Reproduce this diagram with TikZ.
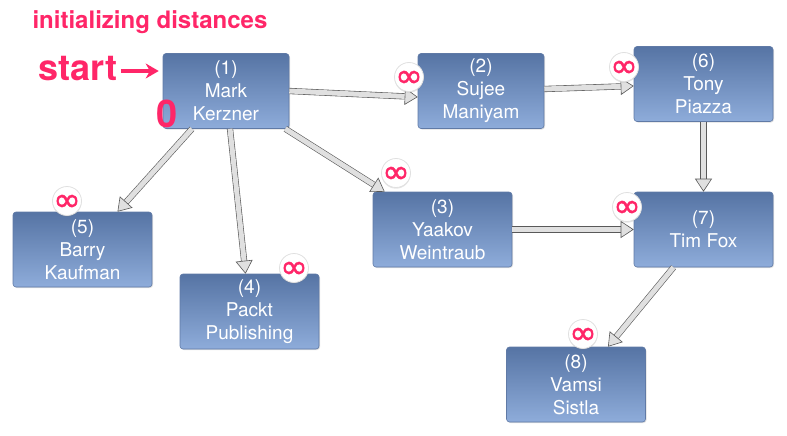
\documentclass[tikz,border=0pt]{standalone}
\usepackage{fontspec}
\setmainfont{TeX Gyre Heros}
\newfontfamily\inffont[FakeBold=1.2]{DejaVu Sans}
\usepackage{tikz}
\usetikzlibrary{arrows.meta,positioning,calc,shadows}
\definecolor{hot}{RGB}{255,38,104}
\definecolor{boxtop}{RGB}{86,116,164}
\definecolor{boxbot}{RGB}{142,172,218}
\definecolor{boxline}{RGB}{96,122,166}
\newcommand{\distinf}{\makebox[0pt]{\raisebox{-0.3em}[0pt][0pt]{∞}}}
\tikzstyle{person}=[draw=boxline,line width=0.6pt,rounded corners=3pt,top color=boxtop,bottom color=boxbot,
  minimum height=75pt,align=center,text=white,inner sep=2pt,
  font=\fontsize{19}{23}\selectfont,drop shadow={opacity=0.25,shadow xshift=1pt,shadow yshift=-1pt}]
\tikzstyle{dist}=[circle,draw=black!12,line width=0.8pt,fill=white,inner sep=0pt,minimum size=29pt,text=hot,
  font=\inffont\fontsize{33}{33}\selectfont,drop shadow={opacity=0.2,shadow xshift=0pt,shadow yshift=-1.2pt}]
\tikzstyle{link}=[draw=black!65,line width=0.6pt,double=black!12,double distance=5pt,
  -{Triangle[open,length=13pt,width=17pt,fill=black!12]}]
\tikzstyle{hotlabel}=[text=hot,font=\bfseries]

\begin{document}
\begin{tikzpicture}[x=1pt,y=-1pt]
\useasboundingbox (0,0) rectangle (787,436);
% people
\node [person,minimum width=126pt] (n1) at (226,91) {(1)\\Mark\\Kerzner};
\node [person,minimum width=126pt] (n2) at (481,91) {(2)\\Sujee\\Maniyam};
\node [person,minimum width=139pt] (n6) at (703.5,84) {(6)\\Tony\\Piazza};
\node [person,minimum width=139pt] (n3) at (442.5,229.5) {(3)\\Yaakov\\Weintraub};
\node [person,minimum width=139pt] (n7) at (703.5,229.5) {(7)\\Tim Fox};
\node [person,minimum width=139pt] (n5) at (82.5,249.5) {(5)\\Barry\\Kaufman};
\node [person,minimum width=139pt] (n4) at (249.5,311.5) {(4)\\Packt\\Publishing};
\node [person,minimum width=139pt] (n8) at (576,384.5) {(8)\\Vamsi\\Sistla};

% edges
\draw [link] (n1.east) -- ([yshift=-6pt]n2.west);
\draw [link] ([yshift=2pt]n2.east) -- ([yshift=-2pt]n6.west);
\draw [link] ([xshift=-34pt]n1.south) -- ([xshift=35pt]n5.north);
\draw [link] ([xshift=4pt]n1.south) -- ([xshift=-4pt]n4.north);
\draw [link] ([xshift=-4pt]n1.south east) -- ([xshift=12pt]n3.north west);
\draw [link] (n6.south) -- (n7.north);
\draw [link] (n3.east) -- (n7.west);
\draw [link] ([xshift=-30pt]n7.south) -- ([xshift=32pt]n8.north);

% distances
\node [dist] (d2) at (409,77) {\distinf};
\node [dist] (d6) at (624,67) {\distinf};
\node [dist] (d3) at (396,173) {\distinf};
\node [dist] (d7) at (627,207) {\distinf};
\node [dist] (d5) at (67,201) {\distinf};
\node [dist] (d4) at (294,268) {\distinf};
\node [dist] (d8) at (583,334) {\distinf};
\node [hotlabel,font=\bfseries\fontsize{38}{38}\selectfont] (d1) at (167,114) {0};

% labels
\node [hotlabel,font=\bfseries\fontsize{24}{24}\selectfont] (title) at (150,22) {initializing distances};
\node [hotlabel,font=\bfseries\fontsize{36}{36}\selectfont] (start) at (78,69) {start};
\draw [hot,line width=4pt,-{Stealth[length=13pt,width=15pt]},shorten >=4pt] ([yshift=-2pt]start.east) -- ([yshift=-2pt]start.east -| n1.west);
\end{tikzpicture}
\end{document}
